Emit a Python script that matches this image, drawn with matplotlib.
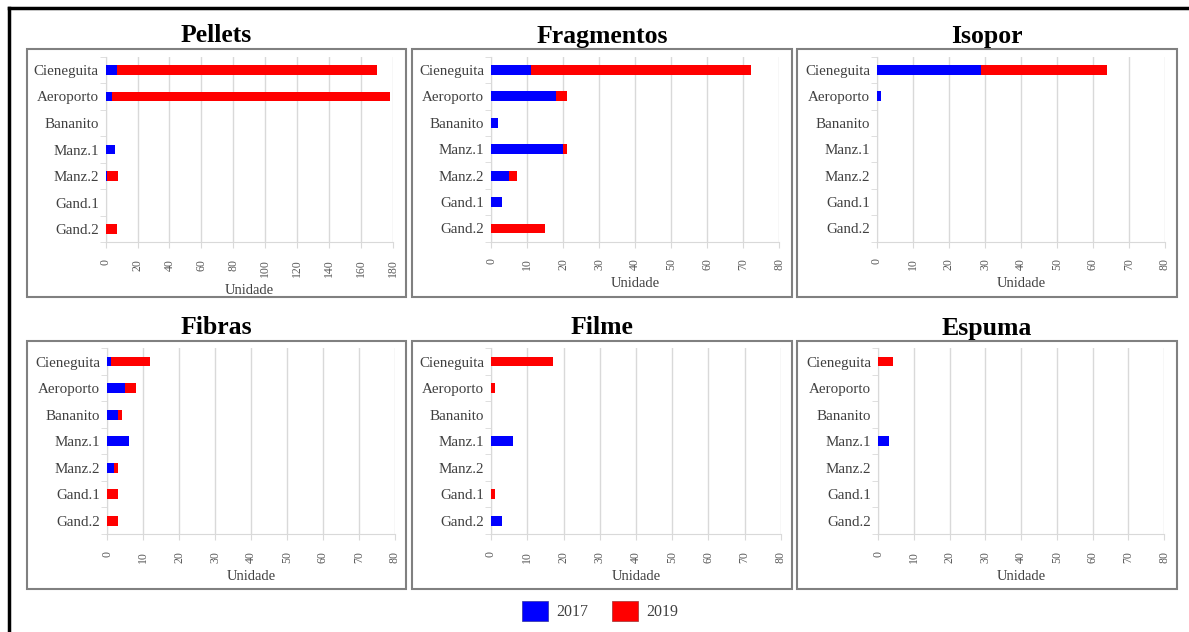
import matplotlib
matplotlib.use("Agg")
import matplotlib.pyplot as plt
from matplotlib.patches import Rectangle, Patch
from matplotlib.lines import Line2D
import numpy as np

plt.rcParams['font.family'] = ['Liberation Serif', 'DejaVu Serif']

categories = ['Cieneguita', 'Aeroporto', 'Bananito', 'Manz.1', 'Manz.2', 'Gand.1', 'Gand.2']

pellets_2017 = [7, 4, 0, 6, 1, 0, 0]
pellets_2019 = [163, 174, 0, 0, 7, 0, 7]
frag_2017 = [11, 18, 2, 20, 5, 3, 0]
frag_2019 = [61, 3, 0, 1, 2, 0, 15]
isopor_2017 = [29, 1, 0, 0, 0, 0, 0]
isopor_2019 = [35, 0, 0, 0, 0, 0, 0]
fibras_2017 = [1, 5, 3, 6, 2, 0, 0]
fibras_2019 = [11, 3, 1, 0, 1, 3, 3]
filme_2017 = [0, 0, 0, 6, 0, 0, 3]
filme_2019 = [17, 1, 0, 0, 0, 1, 0]
espuma_2017 = [0, 0, 0, 3, 0, 0, 0]
espuma_2019 = [4, 0, 0, 0, 0, 0, 0]

titles = ['Pellets', 'Fragmentos', 'Isopor', 'Fibras', 'Filme', 'Espuma']
series_2017 = [pellets_2017, frag_2017, isopor_2017, fibras_2017, filme_2017, espuma_2017]
series_2019 = [pellets_2019, frag_2019, isopor_2019, fibras_2019, filme_2019, espuma_2019]
xmax = [180, 80, 80, 80, 80, 80]
xstep = [20, 10, 10, 10, 10, 10]
legend_labels = ['2017', '2019']

W, H = 1189, 632
fig = plt.figure(figsize=(W / 100, H / 100), dpi=100)

BLUE = '#0000ff'
RED = '#ff0000'
GRID = '#d9d9d9'

# pixel layout: (axes left, axes right, axes top, axes bottom)
ax_px = [
    (105.7, 392.7, 56.7, 242.3),
    (491.3, 779.3, 56.7, 241.7),
    (877.0, 1165.0, 56.7, 241.7),
    (107.3, 394.7, 348.3, 534.0),
    (491.0, 781.0, 348.3, 534.0),
    (878.3, 1164.0, 348.3, 534.0),
]
box_px = [
    (27, 406, 49, 297), (412, 792, 49, 297), (797, 1177, 49, 297),
    (27, 406, 341, 589), (412, 792, 341, 589), (797, 1177, 341, 589),
]

def fx(x):
    return x / W

def fy(y):
    return 1 - y / H

y = np.arange(len(categories))
for i in range(6):
    l, r, t, b = ax_px[i]
    ax = fig.add_axes([fx(l), fy(b), fx(r) - fx(l), fy(t) - fy(b)])
    ax.barh(y, series_2017[i], height=0.37, color=BLUE, zorder=3)
    ax.barh(y, series_2019[i], left=series_2017[i], height=0.37, color=RED, zorder=3)
    ax.set_xlim(0, xmax[i])
    ax.set_ylim(len(categories) - 0.5, -0.5)
    ax.set_xticks(np.arange(0, xmax[i] + 1, xstep[i]))
    ax.tick_params(axis='x', labelrotation=90, labelsize=8.5, colors='#595959',
                   length=4, color=GRID, pad=8)
    ax.set_yticks(y)
    ax.set_yticklabels(categories)
    ax.set_yticks(np.arange(-0.5, len(categories), 1), minor=True)
    ax.tick_params(axis='y', which='major', length=0, labelsize=10.8, colors='#404040', pad=5)
    ax.tick_params(axis='y', which='minor', length=4, color=GRID)
    ax.grid(axis='x', color=GRID, lw=1, zorder=0)
    for s in ['top', 'right']:
        ax.spines[s].set_visible(False)
    for s in ['left', 'bottom']:
        ax.spines[s].set_color(GRID)
    ax.set_xlabel('Unidade', fontsize=10.5, color='#404040', labelpad=5)
    # panel box
    bl, br, bt, bb = box_px[i]
    fig.patches.append(Rectangle((fx(bl), fy(bb)), fx(br) - fx(bl), fy(bt) - fy(bb),
                                 transform=fig.transFigure, fill=False,
                                 edgecolor='#808080', lw=1.5))
    fig.text(fx((bl + br) / 2), fy(bt - 13), titles[i], ha='center', va='center',
             fontsize=18.5, fontweight='bold', color='black')

# outer frame lines
fig.lines.append(Line2D([fx(9), fx(9)], [0, fy(7.5)], transform=fig.transFigure,
                        color='black', lw=2.5))
fig.lines.append(Line2D([fx(9), 1], [fy(7.5), fy(7.5)], transform=fig.transFigure,
                        color='black', lw=2.5))

handles = [Patch(facecolor=BLUE, edgecolor='#3030a0', lw=0.5),
           Patch(facecolor=RED, edgecolor='#a03030', lw=0.5)]
fig.legend(handles, legend_labels, loc='center', bbox_to_anchor=(fx(600), fy(611)),
           ncol=2, frameon=False, fontsize=11.5, handlelength=1.65, handleheight=1.6,
           handletextpad=0.5, columnspacing=1.5, labelcolor='#404040')

fig.savefig('out.png', dpi=100)
